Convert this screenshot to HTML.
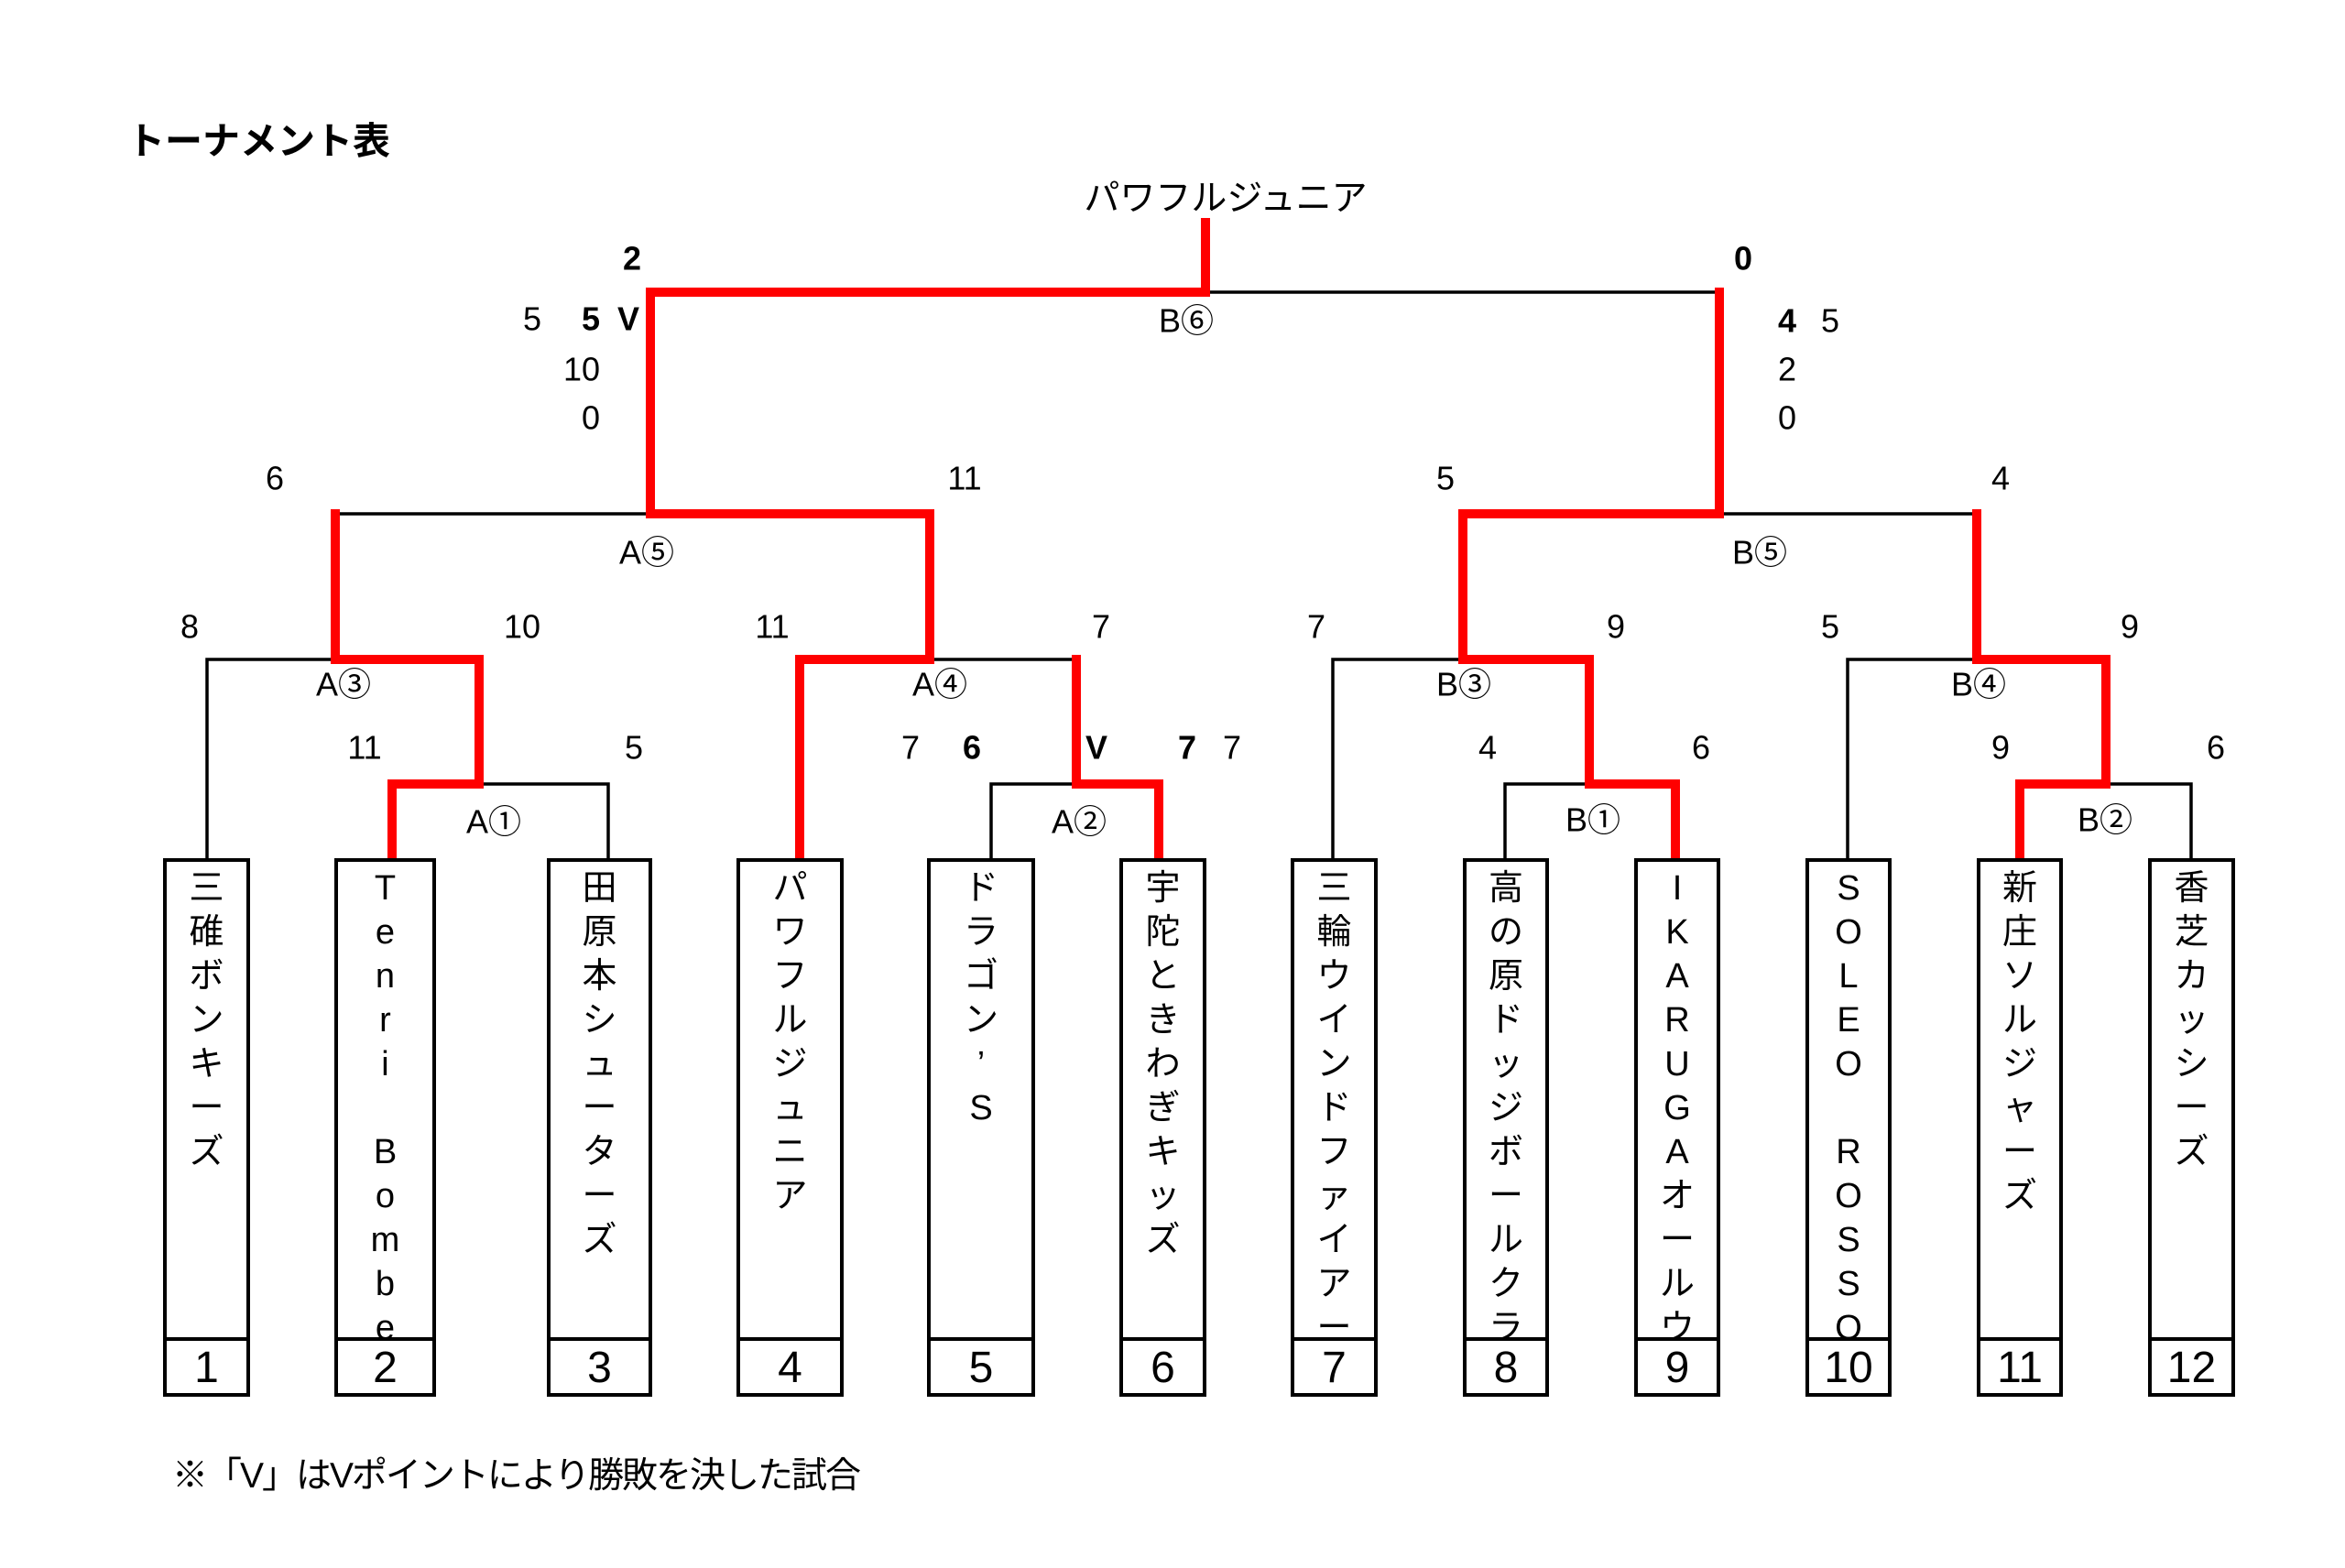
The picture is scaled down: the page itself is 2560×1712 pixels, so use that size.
<!DOCTYPE html>
<html><head><meta charset="utf-8">
<style>
html,body{margin:0;padding:0;background:#fff;}
body{width:2560px;height:1712px;position:relative;overflow:hidden;font-family:"Liberation Sans","Noto Sans CJK JP",sans-serif;}
.box{position:absolute;top:937px;height:588px;border:4px solid #000;box-sizing:border-box;}
.box .nm{position:absolute;left:0;right:0;top:0;height:519px;overflow:hidden;text-align:center;font-size:38px;padding-top:5px;box-sizing:border-box;}
.box .nm span{display:block;height:48px;line-height:48px;}
.box .no{position:absolute;left:0;right:0;top:519px;bottom:0;border-top:4px solid #000;font-size:48px;line-height:60px;text-align:center;}
svg{position:absolute;left:0;top:0;}
svg text{font-family:"Liberation Sans","Noto Sans CJK JP",sans-serif;}
</style></head><body>
<svg width="2560" height="1712" viewBox="0 0 2560 1712">
<g fill="none" stroke="#000" stroke-width="3.5">
<path d="M428 856H664V937"/>
<path d="M226 937V720H366"/>
<path d="M366 561H710"/>
<path d="M1015 720H1175"/>
<path d="M1082 937V856H1175"/>
<path d="M1316 319H1877"/>
<path d="M1877 561H2158"/>
<path d="M1455 937V720H1597"/>
<path d="M1643 937V856H1735"/>
<path d="M2017 937V720H2158"/>
<path d="M2299 856H2392V937"/>
</g>
<g fill="none" stroke="#f00" stroke-width="10" stroke-linecap="square" stroke-linejoin="miter">
<path d="M428 932V856H523V720H366V561"/>
<path d="M873 932V720H1015V561H710V319H1316V243"/>
<path d="M1265 932V856H1175V720"/>
<path d="M1877 319V561H1597V720H1735V856H1829V932"/>
<path d="M2158 561V720H2299V856H2205V932"/>
</g>
<g font-size="36" text-anchor="middle" dominant-baseline="central" fill="#000">
<text x="1338" y="217" font-size="39">パワフルジュニア</text>
<text x="690" y="282" font-weight="bold">2</text>
<text x="581" y="348">5</text>
<text x="645" y="348" font-weight="bold">5</text>
<text x="686" y="348" font-weight="bold">V</text>
<text x="635" y="403">10</text>
<text x="645" y="456">0</text>
<text x="300" y="522">6</text>
<text x="1053" y="522">11</text>
<text x="706" y="603">A⑤</text>
<text x="207" y="684">8</text>
<text x="570" y="684">10</text>
<text x="843" y="684">11</text>
<text x="1202" y="684">7</text>
<text x="375" y="747">A③</text>
<text x="1026" y="747">A④</text>
<text x="398" y="816">11</text>
<text x="692" y="816">5</text>
<text x="994" y="816">7</text>
<text x="1061" y="816" font-weight="bold">6</text>
<text x="1197" y="816" font-weight="bold">V</text>
<text x="1296" y="816" font-weight="bold">7</text>
<text x="1345" y="816">7</text>
<text x="539" y="897">A①</text>
<text x="1178" y="897">A②</text>
<text x="1295" y="350">B⑥</text>
<text x="1903" y="282" font-weight="bold">0</text>
<text x="1951" y="350" font-weight="bold">4</text>
<text x="1998" y="350">5</text>
<text x="1951" y="403">2</text>
<text x="1951" y="456">0</text>
<text x="1578" y="522">5</text>
<text x="2184" y="522">4</text>
<text x="1921" y="603">B⑤</text>
<text x="1437" y="684">7</text>
<text x="1764" y="684">9</text>
<text x="1998" y="684">5</text>
<text x="2325" y="684">9</text>
<text x="1598" y="747">B③</text>
<text x="2160" y="747">B④</text>
<text x="1624" y="816">4</text>
<text x="1857" y="816">6</text>
<text x="2184" y="816">9</text>
<text x="2419" y="816">6</text>
<text x="1739" y="895">B①</text>
<text x="2298" y="895">B②</text>
</g>
<text x="139" y="168" font-size="41" font-weight="bold" fill="#000">トーナメント表</text>
<text x="188" y="1624" font-size="39" fill="#000" textLength="752">※「V」はVポイントにより勝敗を決した試合</text>
</svg>

<div class="box" style="left:178px;width:95px"><div class="nm"><span>三</span><span>碓</span><span>ボ</span><span>ン</span><span>キ</span><span>ー</span><span>ズ</span></div><div class="no">1</div></div>
<div class="box" style="left:365px;width:111px"><div class="nm"><span>T</span><span>e</span><span>n</span><span>r</span><span>i</span><span>&nbsp;</span><span>B</span><span>o</span><span>m</span><span>b</span><span>e</span><span>r</span></div><div class="no">2</div></div>
<div class="box" style="left:597px;width:115px"><div class="nm"><span>田</span><span>原</span><span>本</span><span>シ</span><span>ュ</span><span>ー</span><span>タ</span><span>ー</span><span>ズ</span></div><div class="no">3</div></div>
<div class="box" style="left:804px;width:117px"><div class="nm"><span>パ</span><span>ワ</span><span>フ</span><span>ル</span><span>ジ</span><span>ュ</span><span>ニ</span><span>ア</span></div><div class="no">4</div></div>
<div class="box" style="left:1012px;width:118px"><div class="nm"><span>ド</span><span>ラ</span><span>ゴ</span><span>ン</span><span>’</span><span>S</span></div><div class="no">5</div></div>
<div class="box" style="left:1222px;width:95px"><div class="nm"><span>宇</span><span>陀</span><span>と</span><span>き</span><span>わ</span><span>ぎ</span><span>キ</span><span>ッ</span><span>ズ</span></div><div class="no">6</div></div>
<div class="box" style="left:1409px;width:95px"><div class="nm"><span>三</span><span>輪</span><span>ウ</span><span>イ</span><span>ン</span><span>ド</span><span>フ</span><span>ァ</span><span>イ</span><span>ア</span><span>ー</span><span>ズ</span></div><div class="no">7</div></div>
<div class="box" style="left:1597px;width:94px"><div class="nm"><span>高</span><span>の</span><span>原</span><span>ド</span><span>ッ</span><span>ジ</span><span>ボ</span><span>ー</span><span>ル</span><span>ク</span><span>ラ</span><span>ブ</span></div><div class="no">8</div></div>
<div class="box" style="left:1784px;width:94px"><div class="nm"><span>I</span><span>K</span><span>A</span><span>R</span><span>U</span><span>G</span><span>A</span><span>オ</span><span>ー</span><span>ル</span><span>ウ</span><span>ェ</span></div><div class="no">9</div></div>
<div class="box" style="left:1971px;width:94px"><div class="nm"><span>S</span><span>O</span><span>L</span><span>E</span><span>O</span><span>&nbsp;</span><span>R</span><span>O</span><span>S</span><span>S</span><span>O</span></div><div class="no">10</div></div>
<div class="box" style="left:2158px;width:94px"><div class="nm"><span>新</span><span>庄</span><span>ソ</span><span>ル</span><span>ジ</span><span>ャ</span><span>ー</span><span>ズ</span></div><div class="no">11</div></div>
<div class="box" style="left:2345px;width:95px"><div class="nm"><span>香</span><span>芝</span><span>カ</span><span>ッ</span><span>シ</span><span>ー</span><span>ズ</span></div><div class="no">12</div></div>
</body></html>
